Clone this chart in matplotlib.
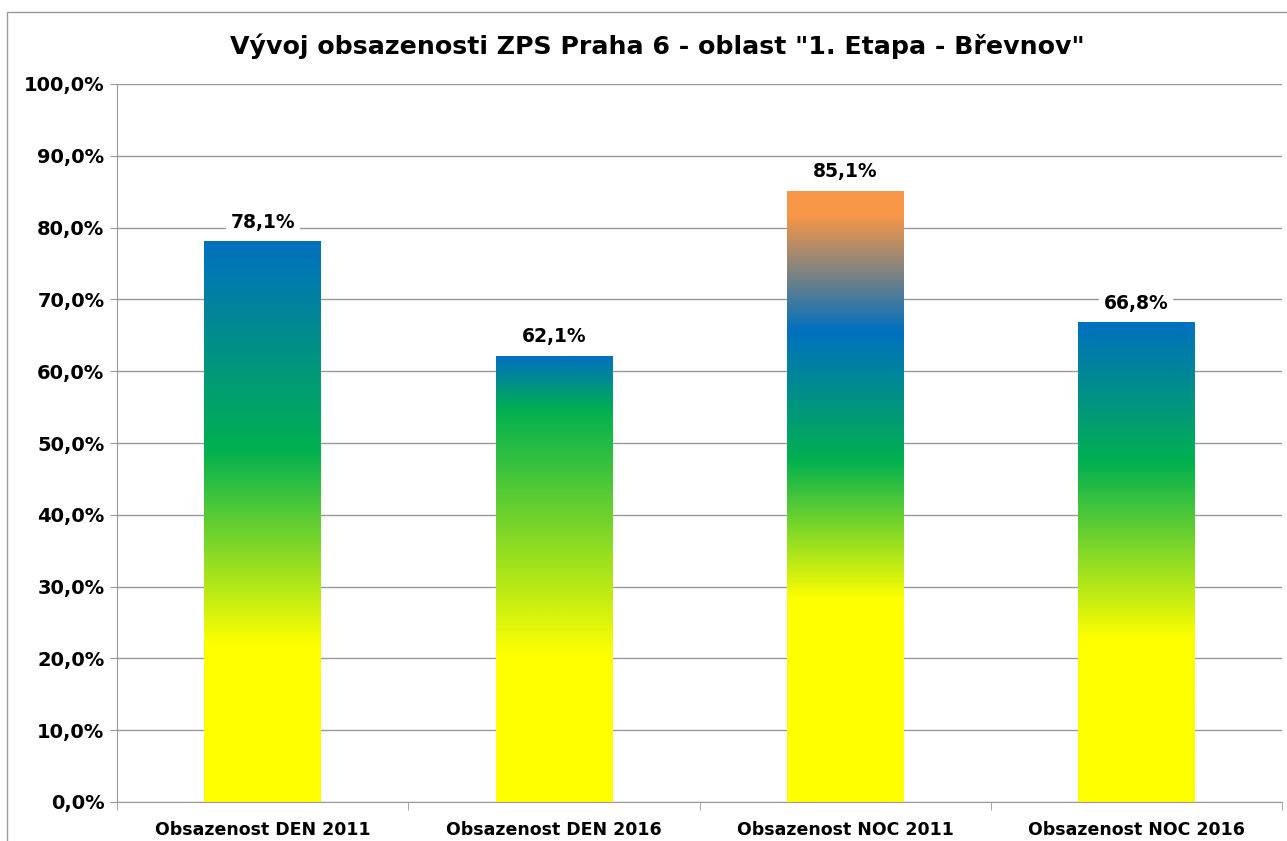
import numpy as np
import matplotlib.pyplot as plt
from matplotlib.colors import LinearSegmentedColormap
from matplotlib.patches import Rectangle
from matplotlib.ticker import FuncFormatter, FixedLocator

# hodnoty obsazenosti
kategorie = ['Obsazenost DEN 2011', 'Obsazenost DEN 2016',
             'Obsazenost NOC 2011', 'Obsazenost NOC 2016']
obsazenost = [78.1, 62.1, 85.1, 66.8]

# barevne prechody sloupcu (podil vysky sloupce, barva)
prechody = [
    [(0.0, '#FFFF00'), (0.28, '#FFFF00'), (0.63, '#00B050'), (1.0, '#0070C0')],
    [(0.0, '#FFFF00'), (0.33, '#FFFF00'), (0.88, '#00B050'), (1.0, '#0070C0')],
    [(0.0, '#FFFF00'), (0.33, '#FFFF00'), (0.56, '#00B050'), (0.77, '#0070C0'),
     (0.96, '#F79646'), (1.0, '#F79646')],
    [(0.0, '#FFFF00'), (0.34, '#FFFF00'), (0.71, '#00B050'), (1.0, '#0070C0')],
]

plt.rcParams['font.family'] = 'DejaVu Sans'
plt.rcParams['font.weight'] = 'bold'

fig = plt.figure(figsize=(12.87, 8.41), dpi=100)
ax = fig.add_axes([117/1287, 1 - 802/841, (1282 - 117)/1287, (802 - 84)/841])

x = np.arange(len(kategorie))
bars = ax.bar(x, obsazenost, width=0.4, color='none', zorder=3)

grad = np.linspace(0, 1, 512).reshape(-1, 1)
for bar, stops in zip(bars, prechody):
    cmap = LinearSegmentedColormap.from_list('g', stops)
    im = ax.imshow(grad, cmap=cmap, origin='lower', aspect='auto',
                   extent=[bar.get_x(), bar.get_x() + bar.get_width(), 0, bar.get_height()],
                   zorder=3, interpolation='bilinear')
    im.set_clip_path(bar)

for bar, val in zip(bars, obsazenost):
    ax.annotate(f'{val:.1f}%'.replace('.', ','),
                (bar.get_x() + bar.get_width()/2, bar.get_height()),
                xytext=(0, 7), textcoords='offset points',
                ha='center', va='bottom', fontsize=13.5, fontweight='bold',
                bbox=dict(boxstyle='square,pad=0.25', fc='white', ec='none'),
                zorder=5)

ax.set_xlim(-0.5, len(kategorie) - 0.5)
ax.set_ylim(0, 100)
ax.set_yticks(np.arange(0, 101, 10))
ax.yaxis.set_major_formatter(FuncFormatter(lambda v, p: f'{v:.1f}%'.replace('.', ',')))
ax.set_xticks(x)
ax.set_xticklabels(kategorie, fontsize=12.5, fontweight='bold')
ax.xaxis.set_minor_locator(FixedLocator(np.arange(-0.5, len(kategorie), 1)))
ax.tick_params(axis='x', which='major', length=0, pad=14)
ax.tick_params(axis='x', which='minor', length=6, color='#999999')
ax.tick_params(axis='y', length=5, color='#999999', labelsize=14, pad=4)

ax.grid(axis='y', color='#999999', linewidth=1.0, zorder=0)
ax.set_axisbelow(True)
for s in ['top', 'right']:
    ax.spines[s].set_visible(False)
for s in ['left', 'bottom']:
    ax.spines[s].set_color('#999999')
    ax.spines[s].set_zorder(4)

fig.text(657/1287, 1 - 46/841, 'Vývoj obsazenosti ZPS Praha 6 - oblast "1. Etapa - Břevnov"',
         ha='center', va='center', fontsize=18.2, fontweight='bold')

fig.patches.append(Rectangle((7/1287, -0.05), 1.1, 1.05 - 12/841, transform=fig.transFigure,
                             fill=False, edgecolor='#999999', linewidth=1.0, clip_on=False))

fig.savefig('out.png', dpi=100)
